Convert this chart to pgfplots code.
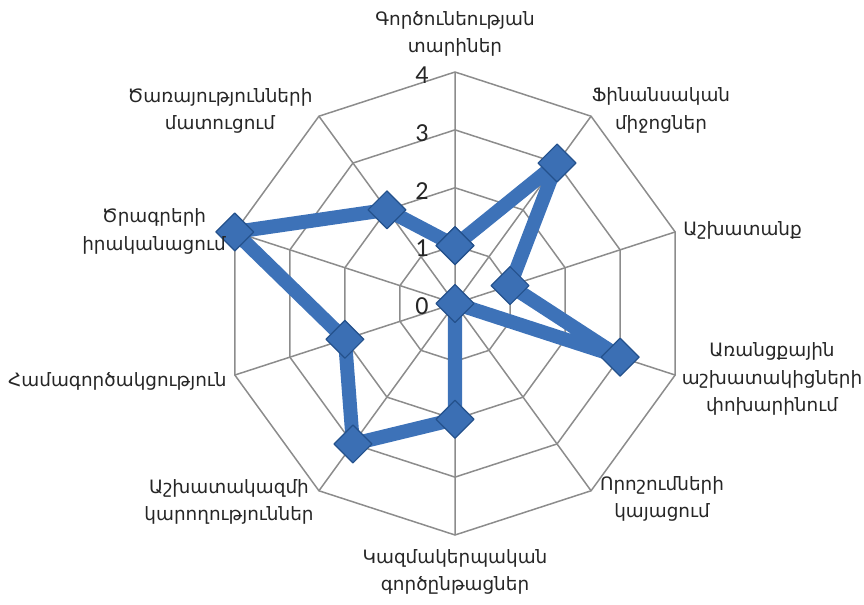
\documentclass[border=0pt]{standalone}
\usepackage{fontspec}
\setmainfont{DejaVu Sans}
\newfontfamily\digitfont{Carlito}
\usepackage{pgfplots}
\usepgfplotslibrary{polar}
\pgfplotsset{compat=1.18}
\definecolor{gridgray}{HTML}{8C8C8C}
\definecolor{serblue}{HTML}{3D72B8}
\definecolor{mkfill}{HTML}{3B6FB4}
\definecolor{mkdraw}{HTML}{24518C}
\definecolor{txt}{HTML}{262626}
\begin{document}
\begin{tikzpicture}
\begin{polaraxis}[
  hide axis,
  scale only axis,
  width=231.5bp, height=231.5bp,
  xmin=0, xmax=360, ymin=0, ymax=4,
  clip=false,
]
% grid rings
\foreach \r in {1,2,3,4}{
  \edef\tmp{\noexpand\addplot[gridgray, line width=0.75bp, no marks] coordinates {
    (90,\r) (54,\r) (18,\r) (342,\r) (306,\r) (270,\r) (234,\r) (198,\r) (162,\r) (126,\r) (90,\r)};}
  \tmp
}
% spokes
\addplot[gridgray, line width=0.75bp, no marks] coordinates {
  (90,4) (90,0) (54,4) (54,0) (18,4) (18,0) (342,4) (342,0) (306,4) (306,0)
  (270,4) (270,0) (234,4) (234,0) (198,4) (198,0) (162,4) (162,0) (126,4) (126,0)};
% data
\addplot[serblue, line width=7bp, line join=round, mark=square*,
  mark size=6.7bp,
  mark options={rotate=45, fill=mkfill, draw=mkdraw, line width=0.6bp, solid}]
  coordinates {
  (90,1) (54,3) (18,1) (342,3) (306,0) (270,2) (234,3) (198,2) (162,4) (126,2) (90,1)};
\coordinate (c) at (axis cs:0,0);
\foreach \r in {0,1,2,3,4}{
  \edef\tmp{\noexpand\node[font=\noexpand\digitfont\noexpand\fontsize{13bp}{15bp}\noexpand\selectfont, text=txt, anchor=center, xshift=-16.5bp, yshift=-1.5bp] at (axis cs:90,\r) {\r};}
  \tmp
}
\end{polaraxis}
\begin{scope}[every node/.style={font=\fontsize{9.2bp}{13.8bp}\selectfont, text=txt, align=center, inner sep=0pt}]
\node[anchor=center] at ([shift={(0bp,134.75bp)}]c) {Գործունեության\\տարիներ};
\node[anchor=center] at ([shift={(103bp,96.5bp)}]c) {Ֆինանսական\\միջոցներ};
\node[anchor=west] at ([shift={(114bp,36.75bp)}]c) {Աշխատանք};
\node[anchor=center] at ([shift={(158.5bp,-37.75bp)}]c) {Առանցքային\\աշխատակիցների\\փոխարինում};
\node[anchor=center] at ([shift={(103.5bp,-97.75bp)}]c) {Որոշումների\\կայացում};
\node[anchor=center] at ([shift={(0bp,-134.25bp)}]c) {Կազմակերպական\\գործընթացներ};
\node[anchor=center] at ([shift={(-113bp,-99.25bp)}]c) {Աշխատակազմի\\կարողություններ};
\node[anchor=east] at ([shift={(-114bp,-38.75bp)}]c) {Համագործակցություն};
\node[anchor=center] at ([shift={(-150.5bp,36bp)}]c) {Ծրագրերի\\իրականացում};
\node[anchor=center] at ([shift={(-117.5bp,96.25bp)}]c) {Ծառայությունների\\մատուցում};
\end{scope}
\pgfresetboundingbox
\path[use as bounding box] ([shift={(-227.5bp,-150.75bp)}]c) rectangle ([shift={(204.5bp,151.75bp)}]c);
\end{tikzpicture}
\end{document}
